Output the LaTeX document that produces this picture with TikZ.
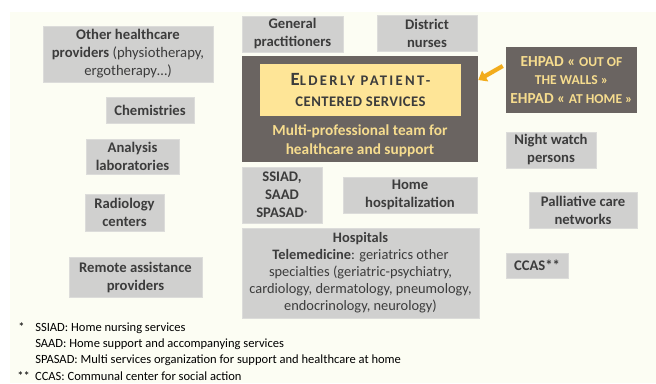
\documentclass[tikz,border=0pt]{standalone}
\usepackage{fontspec}
\setmainfont{Carlito}
\usepackage{tikz}
\usetikzlibrary{arrows.meta}

\definecolor{paper}{HTML}{FCFDF3}
\definecolor{boxgrey}{HTML}{D0D0CF}
\definecolor{boxline}{HTML}{DCDCDA}
\definecolor{darkgrey}{HTML}{6A6461}
\definecolor{lightyellow}{HTML}{FEE597}
\definecolor{textyellow}{HTML}{F6DC8E}
\definecolor{arroworange}{HTML}{F2AC1C}
\definecolor{inktext}{HTML}{3C3C3C}

\newcommand{\smc}[1]{{\fontsize{10.2}{11}\selectfont #1}}
\newcommand{\bigsmc}[1]{{\fontsize{11}{12}\selectfont #1}}

\begin{document}
\begin{tikzpicture}[x=0.75pt,y=-0.75pt]

\tikzset{size/.style 2 args = {minimum width=#1*0.75pt,minimum height=#2*0.75pt}}
\tikzset{service/.style = {shape=rectangle,fill=boxgrey,draw=boxline,line width=0.6pt,
  align=center,inner sep=1pt,text=inktext,font=\fontsize{11}{13.5}\selectfont\bfseries}}
\tikzset{darkbox/.style = {shape=rectangle,fill=darkgrey,draw=none,align=center,
  inner sep=1pt,text=textyellow,font=\fontsize{11.5}{14}\selectfont\bfseries}}
\tikzset{note/.style = {anchor=west,inner sep=0pt,text=black,font=\fontsize{9.4}{11}\selectfont}}

\useasboundingbox (0,0) rectangle (656,383);
\fill[white] (0,0) rectangle (656,383);
\fill[paper] (10,12) rectangle (656,383);

% left column
\node[service,size={170}{56}] (other) at (128,54)
  {Other healthcare\\providers {\mdseries (physiotherapy,}\\{\mdseries ergotherapy\dots)}};
\node[service,size={88}{26}] (chem) at (150,110) {Chemistries};
\node[service,size={93}{35}] (lab) at (132.5,156.5) {Analysis\\laboratories};
\node[service,size={79}{37}] (radio) at (124.5,212.5) {Radiology\\centers};
\node[service,size={133}{40}] (remote) at (135.5,277) {Remote assistance\\providers};

% middle column
\node[service,size={101}{36}] (gp) at (292.5,34) {General\\practitioners};
\node[service,size={100}{36}] (nurses) at (427,33) {District\\nurses};
\node[darkbox,size={236}{106}] (core) at (360,109) {};
\node[shape=rectangle,fill=lightyellow,size={201}{52},align=center,
  inner sep=1pt,text=inktext,font=\bfseries] (patient) at (360.5,90)
  {{\addfontfeature{LetterSpace=16}{\fontsize{14}{15}\selectfont E}\bigsmc{LDERLY PATIENT-}}\\[4pt]
   {\addfontfeature{LetterSpace=3}\bigsmc{CENTERED SERVICES}}};
\node[darkbox] (team) at (360,140.5) {Multi-professional team for\\healthcare and support};
\node[service,size={80}{56}] (ssiad) at (282,195)
  {SSIAD,\\SAAD\\SPASAD{\raisebox{1pt}{\fontsize{6}{6}\selectfont*}}};
\node[service,size={134}{36}] (homehosp) at (410,195) {Home\\hospitalization};
\node[service,size={237}{90},font=\fontsize{10.8}{12.8}\selectfont] (hosp) at (360.5,273)
  {\textbf{Hospitals}\\\textbf{Telemedicine}: geriatrics other\\specialties (geriatric-psychiatry,\\
   cardiology, dermatology, pneumology,\\endocrinology, neurology)};

% right column
\node[darkbox,size={131}{66},font=\fontsize{11.5}{14}\selectfont\bfseries] (ehpad) at (571.5,80)
  {EHPAD « \smc{OUT OF}\\\smc{THE WALLS »}\\EHPAD « \smc{AT HOME »}};
\node[service,size={90}{36}] (night) at (551,150) {Night watch\\persons};
\node[service,size={108}{36}] (palliative) at (583,210) {Palliative care\\networks};
\node[service,size={62}{25}] (ccas) at (537,265.5) {CCAS**};

% arrow into the core
\draw[arroworange,line width=3.2pt,-{Triangle[length=6pt,width=9pt]}]
  (ehpad.west) ++(-3,-14) -- (core.east |- 0,80);

% legend
\node[note] (star) at (18,327) {*};
\node[note] (n1) at (35,328) {SSIAD: Home nursing services};
\node[note] (n2) at (35,344) {SAAD: Home support and accompanying services};
\node[note] (n3) at (35,360) {SPASAD: Multi services organization for support and healthcare at home};
\node[note] (n4) at (17,376) {**\hspace{4pt}CCAS: Communal center for social action};

\end{tikzpicture}
\end{document}
